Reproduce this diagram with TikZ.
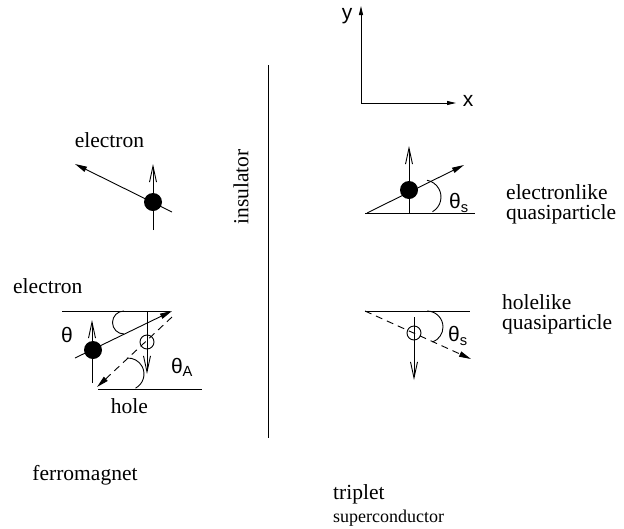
\documentclass[tikz,border=0pt]{standalone}
\usepackage{fontspec}
\setmainfont{Liberation Serif}
\newfontfamily\hv{Liberation Sans}
\usetikzlibrary{arrows.meta,calc}
\tikzset{
  ln/.style={line width=0.9pt},
  spinar/.style={ln,-{Straight Barb[length=16pt,width=7pt,line width=0.9pt]}},
  partar/.style={ln,-{Triangle[length=12pt,width=5.5pt]}},
  axar/.style={ln,-{Triangle[length=9pt,width=4pt]}},
  dsh/.style={dash pattern=on 7pt off 5pt},
  dotp/.style={circle,fill=black,inner sep=0pt,minimum size=18pt},
  holep/.style={circle,draw,ln,inner sep=0pt,minimum size=14pt},
  txt/.style={font=\fontsize{21.5}{24}\selectfont,inner sep=0pt},
  stxt/.style={font=\hv\fontsize{21}{24}\selectfont,inner sep=0pt},
}
\begin{document}
\begin{tikzpicture}[x=1pt,y=-1pt]
\useasboundingbox (0,0) rectangle (624,528);
% axes
\coordinate (o) at (361,103);
\coordinate (yt) at (361,6);
\coordinate (xt) at (456,103);
\draw[axar] (o) -- (yt);
\draw[axar] (o) -- (xt);
\node[stxt] (ylab) at (347,16) {y};
\node[stxt] (xlab) at (468,101) {x};
% insulator
\coordinate (i1) at (268,65);
\coordinate (i2) at (268,438);
\draw[ln] (i1) -- (i2);
\node[txt,rotate=90] (ins) at (241,187) {insulator};
% top-left electron
\node[txt,anchor=base] (el1) at (109.5,147) {electron};
\coordinate (a1s) at (172,212);
\coordinate (a1e) at (75,164);
\draw[partar] (a1s) -- (a1e);
\node[dotp] (d1) at (153,202) {};
\coordinate (s1s) at (153,230);
\coordinate (s1e) at (153,164);
\draw[spinar] (s1s) -- (s1e);
% bottom-left reflection
\node[txt,anchor=base west] (el2) at (13,293) {electron};
\coordinate (t1) at (62,311);
\coordinate (t2) at (170,311);
\draw[ln] (t1) -- (t2);
\coordinate (e2s) at (75,358);
\coordinate (e2e) at (172,311);
\draw[partar] (e2s) -- (e2e);
\node[dotp] (d2) at (93,350) {};
\coordinate (s2s) at (92,383);
\coordinate (s2e) at (92,320);
\draw[spinar] (s2s) -- (s2e);
\node[stxt] (th) at (67,335) {θ};
\coordinate (c1) at (124,322.5);
\draw[ln] ($(c1)+(-90:11.5)$) arc[start angle=-90,end angle=-270,radius=11.5];
\coordinate (h1s) at (147,311);
\coordinate (h1e) at (147,374);
\draw[spinar] (h1s) -- (h1e);
\node[holep] (h1) at (147,342) {};
\coordinate (hs) at (172,317);
\coordinate (he) at (97,387);
\draw[partar,dsh] (hs) -- (he);
\coordinate (b1) at (98,389);
\coordinate (b2) at (202,389);
\draw[ln] (b1) -- (b2);
\coordinate (c2) at (128,374);
\draw[ln] ($(c2)+(62:16)$) arc[start angle=62,end angle=-94,radius=16];
\node[stxt] (thA) at (182,367) {θ\textsubscript{A}};
\node[txt,anchor=base] (hole) at (129.5,413) {hole};
\node[txt,anchor=base] (fm) at (85,480) {ferromagnet};
% top-right electronlike
\coordinate (r1) at (365,213);
\coordinate (r2) at (475,213);
\draw[ln] (r1) -- (r2);
\coordinate (e3s) at (367,213);
\coordinate (e3e) at (464,165);
\draw[partar] (e3s) -- (e3e);
\node[dotp] (d3) at (409,190) {};
\coordinate (s3s) at (409,213);
\coordinate (s3e) at (409,146);
\draw[spinar] (s3s) -- (s3e);
\coordinate (c3) at (424,197);
\draw[ln] ($(c3)+(60:17)$) arc[start angle=60,end angle=-80,radius=17];
\node[stxt] (ths1) at (459,203) {θ\textsubscript{s}};
\node[txt,anchor=base west] (elk) at (506,199) {electronlike};
\node[txt,anchor=base west] (qp1) at (506,219) {quasiparticle};
% bottom-right holelike
\coordinate (q1) at (365,311);
\coordinate (q2) at (470,311);
\draw[ln] (q1) -- (q2);
\coordinate (hls) at (365,311);
\coordinate (hle) at (471,359);
\draw[partar,dsh] (hls) -- (hle);
\coordinate (s4s) at (414,317);
\coordinate (s4e) at (414,380);
\draw[spinar] (s4s) -- (s4e);
\node[holep] (h2) at (414,333) {};
\coordinate (c4) at (427,327);
\draw[ln] ($(c4)+(-90:16)$) arc[start angle=-90,end angle=70,radius=16];
\node[stxt] (ths2) at (458,336) {θ\textsubscript{s}};
\node[txt,anchor=base west] (hlk) at (502,309) {holelike};
\node[txt,anchor=base west] (qp2) at (502,329) {quasiparticle};
% superconductor label
\node[txt,anchor=base west] (trip) at (333,499) {triplet};
\node[txt,anchor=base west,font=\fontsize{18}{20}\selectfont] (sc) at (333,522) {superconductor};
\end{tikzpicture}
\end{document}
